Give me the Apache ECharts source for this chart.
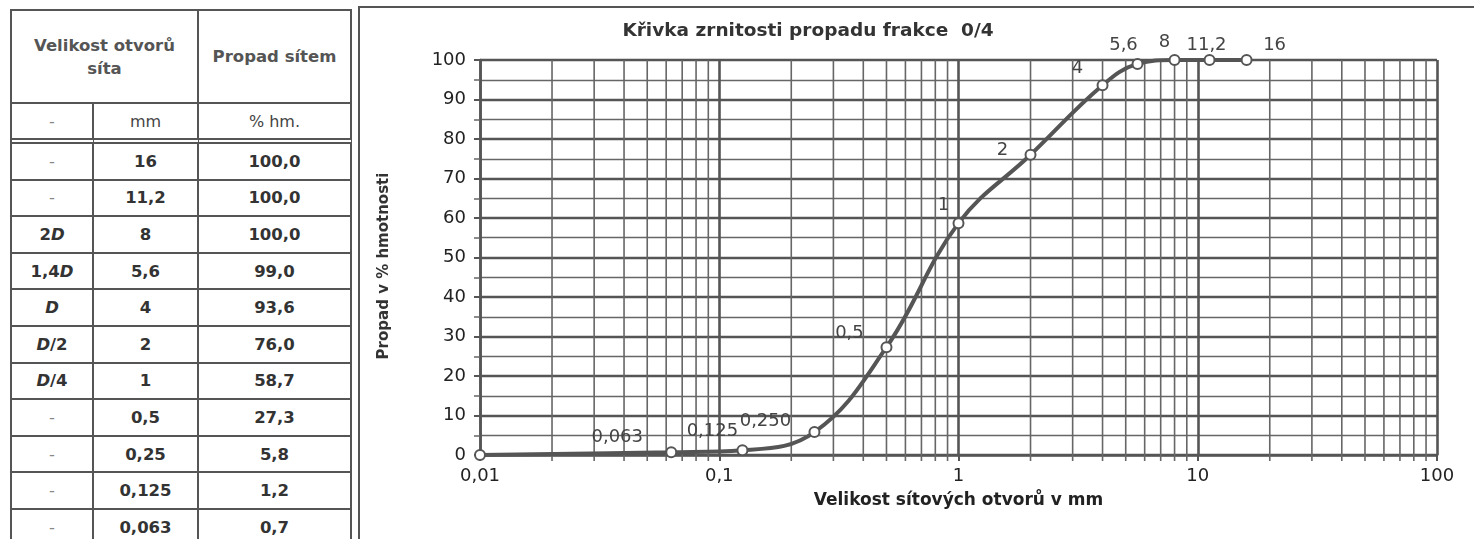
<!DOCTYPE html>
<html>
<head>
<meta charset="utf-8">
<script src="https://cdn.jsdelivr.net/npm/echarts@6/dist/echarts.min.js"></script>
<style>
html,body{margin:0;padding:0;background:#fff;width:1474px;height:539px;overflow:hidden;}
#tbl{position:absolute;left:10px;top:9px;width:342px;height:545px;box-sizing:border-box;border-left:2px solid #555;border-top:2px solid #555;font-family:"DejaVu Sans",sans-serif;color:#333;}
.c{position:absolute;box-sizing:border-box;display:flex;align-items:center;justify-content:center;text-align:center;border-right:2px solid #555;border-bottom:2px solid #555;font-size:16.5px;font-weight:bold;line-height:23px;}
.c.hd{color:#555;}
.c.un{font-weight:normal;font-size:16px;color:#444;}
.c.dbl{border-bottom:6px double #555;}
.c .dash{color:#888;font-weight:normal;}
#frame{position:absolute;left:358px;top:6px;width:1130px;height:560px;border-left:2px solid #555;border-top:2px solid #555;}
#chart{position:absolute;left:360px;top:0;width:1114px;height:539px;}
</style>
</head>
<body>
<div id="tbl"></div>
<div id="frame"></div>
<div id="chart"></div>
<script>
// ---- data ----
const sieveSizes  = [0.01, 0.063, 0.125, 0.25, 0.5, 1, 2, 4, 5.6, 8, 11.2, 16];
const passingPct  = [0, 0.7, 1.2, 5.8, 27.3, 58.7, 76.0, 93.6, 99.0, 100.0, 100.0, 100.0];
const pointLabels = ['', '0,063', '0,125', '0,250', '0,5', '1', '2', '4', '5,6', '8', '11,2', '16'];
const tableMarks  = ['-', '-', '2D', '1,4D', 'D', 'D/2', 'D/4', '-', '-', '-', '-'];
const tableSizes  = [16, 11.2, 8, 5.6, 4, 2, 1, 0.5, 0.25, 0.125, 0.063];
const tablePass   = [100.0, 100.0, 100.0, 99.0, 93.6, 76.0, 58.7, 27.3, 5.8, 1.2, 0.7];
const headerTexts = ['Velikost otvorů<br>síta', 'Propad sítem'];
const unitTexts   = ['-', 'mm', '% hm.'];
const chartTitle  = 'Křivka zrnitosti propadu frakce  0/4';
const xName = 'Velikost sítových otvorů v mm';
const yName = 'Propad v % hmotnosti';

// ---- table (HTML) ----
const tbl = document.getElementById('tbl');
const colX = [0, 82, 187, 340];
function cell(x0, x1, y0, y1, html, cls) {
  const d = document.createElement('div');
  d.className = 'c ' + (cls || '');
  d.style.left = x0 + 'px'; d.style.width = (x1 - x0) + 'px';
  d.style.top = y0 + 'px'; d.style.height = (y1 - y0) + 'px';
  d.innerHTML = html;
  tbl.appendChild(d);
}
const fmt = v => String(v).replace('.', ',');
const fmtMark = s => s === '-' ? '<span class="dash">-</span>' : s.replace('D', '<i>D</i>');
cell(colX[0], colX[2], 0, 93, headerTexts[0], 'hd');
cell(colX[2], colX[3], 0, 93, headerTexts[1], 'hd');
unitTexts.forEach((t, i) => cell(colX[i], colX[i + 1], 93, 133, i === 0 ? fmtMark(t) : t, 'un dbl'));
const rowH = 36.6;
tableSizes.forEach((s, r) => {
  const y0 = 133 + r * rowH, y1 = y0 + rowH;
  cell(colX[0], colX[1], y0, y1, fmtMark(tableMarks[r]));
  cell(colX[1], colX[2], y0, y1, fmt(s));
  cell(colX[2], colX[3], y0, y1, tablePass[r].toFixed(1).replace('.', ','));
});

// ---- chart ----
const FONT = '"DejaVu Sans", sans-serif';
// minor logarithmic grid positions (2..9 x each decade)
const minorX = [];
for (let e = -2; e < 2; e++) for (let m = 2; m < 10; m++) minorX.push(+(m * Math.pow(10, e)).toPrecision(3));
const labelNudge = [[0,0],[-54,-15],[-30,-19],[-49,-11],[-37,-14],[-15,-18],[-28,-4],[-25,-17],[-14,-19],[-10,-18],[-3,-15],[28,-15]];

const chart = echarts.init(document.getElementById('chart'));
chart.setOption({
  animation: false,
  graphic: [{
    type: 'text', x: 448, y: 31,
    style: { text: chartTitle, textAlign: 'center', textVerticalAlign: 'middle',
      font: 'bold 18.5px "DejaVu Sans", sans-serif', fill: '#333' }
  }, {
    type: 'text', x: 24, y: 266, rotation: Math.PI / 2,
    style: { text: yName, textAlign: 'center', textVerticalAlign: 'middle',
      font: 'bold 15px "DejaVu Sans", sans-serif', fill: '#333' }
  }],
  grid: { left: 120, right: 37, top: 60, bottom: 84 },
  xAxis: {
    type: 'log', logBase: 10, min: 0.01, max: 100,
    name: xName, nameLocation: 'middle', nameGap: 37,
    nameTextStyle: { fontFamily: FONT, fontSize: 17, fontWeight: 'bold', color: '#222' },
    axisLine: { show: true, onZero: false, lineStyle: { color: '#555', width: 2.5 } },
    axisTick: { show: true, length: 6, lineStyle: { color: '#555', width: 2 } },
    axisLabel: { formatter: v => fmt(v), fontFamily: FONT, fontSize: 18, color: '#222', margin: 12 },
    splitLine: { show: true, lineStyle: { color: '#555', width: 2.6 } }
  },
  yAxis: {
    type: 'value', min: 0, max: 100, interval: 10,
    axisLine: { show: true, lineStyle: { color: '#555', width: 2.5 } },
    axisTick: { show: true, length: 6, lineStyle: { color: '#555', width: 2 } },
    minorTick: { show: true, splitNumber: 2, length: 6, lineStyle: { color: '#666', width: 1.5 } },
    minorSplitLine: { show: true, lineStyle: { color: '#666', width: 1.3 } },
    splitLine: { show: true, lineStyle: { color: '#555', width: 2.3 } },
    axisLabel: { fontFamily: FONT, fontSize: 18, color: '#222', margin: 14 }
  },
  series: [
    {
      type: 'custom', z: 1, silent: true, clip: false,
      data: minorX.map(v => [v, 0]),
      renderItem: (params, api) => {
        const v = api.value(0);
        const top = api.coord([v, 100]);
        const bot = api.coord([v, 0]);
        return {
          type: 'line',
          shape: { x1: bot[0], y1: bot[1] + 6, x2: top[0], y2: top[1] },
          style: { stroke: '#666', lineWidth: 1.6 }
        };
      }
    },
    {
      type: 'line', z: 5,
      data: sieveSizes.map((x, i) => ({
        value: [x, passingPct[i]],
        label: { show: !!pointLabels[i], formatter: pointLabels[i], offset: labelNudge[i] }
      })),
      smooth: 0.4,
      symbol: 'circle', symbolSize: 10, showAllSymbol: true,
      lineStyle: { color: '#555', width: 4 },
      itemStyle: { color: '#fff', borderColor: '#555', borderWidth: 2 },
      label: { position: 'inside', fontFamily: FONT, fontSize: 18, color: '#444' }
    }
  ]
});
</script>
</body>
</html>
